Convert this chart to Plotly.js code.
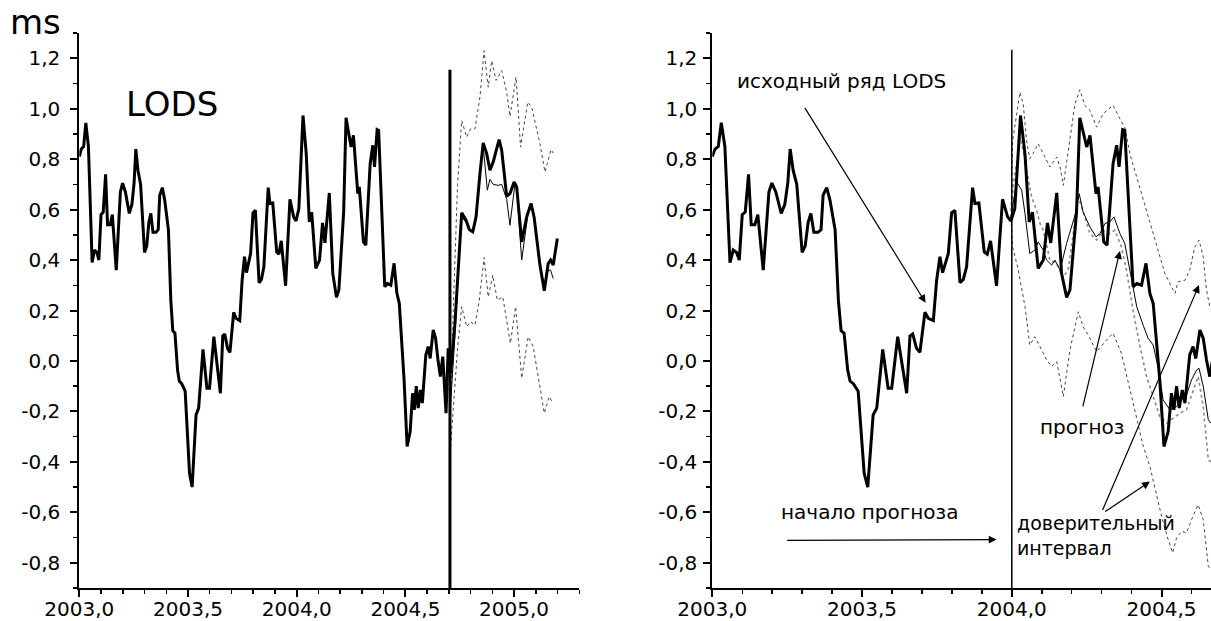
<!DOCTYPE html>
<html>
<head>
<meta charset="utf-8">
<script src="https://cdn.plot.ly/plotly-3.0.1.min.js"></script>
<style>html,body{margin:0;padding:0;background:#fff;}#chart{width:1211px;height:621px;}</style>
</head>
<body>
<div id="chart"></div>
<script>
// ---- observed LODS series (ms) ----
const obsYears = [2003.000,2003.009,2003.020,2003.030,2003.042,2003.059,2003.070,2003.081,2003.090,2003.100,2003.110,2003.121,2003.130,2003.142,2003.152,2003.170,2003.189,2003.199,2003.212,2003.230,2003.242,2003.252,2003.260,2003.270,2003.282,2003.300,2003.310,2003.320,2003.329,2003.339,2003.353,2003.363,2003.370,2003.382,2003.393,2003.410,2003.421,2003.430,2003.440,2003.452,2003.460,2003.471,2003.487,2003.507,2003.519,2003.537,2003.549,2003.569,2003.587,2003.599,2003.619,2003.649,2003.660,2003.669,2003.682,2003.693,2003.710,2003.721,2003.738,2003.749,2003.760,2003.769,2003.788,2003.799,2003.810,2003.827,2003.838,2003.849,2003.869,2003.877,2003.890,2003.908,2003.918,2003.929,2003.949,2003.969,2003.986,2003.997,2004.010,2004.029,2004.044,2004.058,2004.069,2004.088,2004.105,2004.119,2004.130,2004.150,2004.166,2004.183,2004.194,2004.216,2004.227,2004.238,2004.250,2004.261,2004.281,2004.288,2004.307,2004.318,2004.338,2004.350,2004.358,2004.370,2004.377,2004.405,2004.417,2004.433,2004.448,2004.461,2004.472,2004.494,2004.508,2004.522,2004.533,2004.541,2004.550,2004.559,2004.569,2004.578,2004.594,2004.605,2004.614,2004.628,2004.639,2004.650,2004.661,2004.672,2004.687,2004.697,2004.708,2004.728,2004.748,2004.759,2004.779,2004.794,2004.810,2004.825,2004.843,2004.858,2004.874,2004.889,2004.904,2004.931,2004.943,2004.966,2004.981,2005.000,2005.012,2005.035,2005.058,2005.078,2005.092,2005.119,2005.139,2005.157,2005.168,2005.180,2005.199];
const obsLODS = [0.81,0.84,0.85,0.944,0.85,0.39,0.44,0.43,0.40,0.58,0.59,0.74,0.54,0.54,0.58,0.36,0.67,0.705,0.67,0.585,0.62,0.705,0.84,0.755,0.70,0.43,0.455,0.55,0.585,0.51,0.51,0.52,0.657,0.687,0.637,0.52,0.24,0.12,0.11,-0.036,-0.08,-0.09,-0.12,-0.445,-0.50,-0.214,-0.187,0.046,-0.108,-0.108,0.096,-0.128,0.099,0.107,0.05,0.034,0.193,0.169,0.16,0.32,0.413,0.35,0.426,0.587,0.597,0.31,0.323,0.373,0.687,0.624,0.626,0.432,0.423,0.476,0.298,0.641,0.571,0.555,0.604,0.973,0.82,0.551,0.59,0.367,0.40,0.547,0.468,0.666,0.347,0.252,0.281,0.59,0.964,0.914,0.848,0.894,0.663,0.69,0.472,0.459,0.782,0.855,0.769,0.917,0.914,0.294,0.307,0.30,0.387,0.268,0.228,-0.075,-0.339,-0.28,-0.128,-0.194,-0.10,-0.187,-0.115,-0.167,0.024,0.057,0.01,0.123,0.09,0.004,-0.062,0.017,-0.207,0.05,-0.05,0.149,0.452,0.587,0.558,0.521,0.512,0.571,0.743,0.864,0.822,0.756,0.789,0.877,0.835,0.653,0.663,0.709,0.69,0.472,0.571,0.624,0.571,0.38,0.278,0.387,0.40,0.38,0.485];

// ---- forecast from 2004.7 (left panel) ----
const fcLYears = [2004.705,2004.728,2004.748,2004.759,2004.779,2004.794,2004.810,2004.825,2004.843,2004.858,2004.877,2004.889,2004.904,2004.927,2004.943,2004.966,2004.981,2005.005,2005.012,2005.035,2005.065,2005.081,2005.092,2005.119,2005.139,2005.157,2005.168,2005.180];
const fcLValues = [-0.21,0.10,0.42,0.57,0.55,0.52,0.51,0.56,0.74,0.85,0.677,0.72,0.70,0.696,0.70,0.64,0.538,0.709,0.68,0.40,0.59,0.624,0.57,0.38,0.294,0.36,0.36,0.327];
const upLYears = [2004.705,2004.720,2004.740,2004.759,2004.782,2004.800,2004.820,2004.843,2004.862,2004.881,2004.897,2004.917,2004.943,2004.966,2004.981,2005.009,2005.030,2005.063,2005.081,2005.119,2005.142,2005.170,2005.180];
const upLValues = [-0.33,0.20,0.70,0.953,0.887,0.92,0.92,1.046,1.23,1.085,1.19,1.112,1.151,1.065,0.969,1.125,0.848,1.026,1.006,0.861,0.749,0.838,0.824];
const loLYears = [2004.708,2004.740,2004.759,2004.782,2004.800,2004.820,2004.840,2004.862,2004.881,2004.902,2004.923,2004.948,2004.983,2005.007,2005.035,2005.065,2005.088,2005.139,2005.162,2005.178];
const loLValues = [-0.34,0.05,0.215,0.136,0.156,0.142,0.241,0.41,0.254,0.34,0.241,0.254,0.07,0.215,-0.068,0.096,0.057,-0.207,-0.141,-0.167];

// ---- forecast from 2004.0 (right panel) ----
const fcRYears = [2003.997,2004.016,2004.033,2004.044,2004.060,2004.077,2004.088,2004.105,2004.116,2004.133,2004.144,2004.161,2004.183,2004.211,2004.225,2004.238,2004.261,2004.281,2004.294,2004.311,2004.327,2004.341,2004.361,2004.377,2004.394,2004.417,2004.439,2004.455,2004.472,2004.489,2004.505,2004.528,2004.550,2004.567,2004.583,2004.600,2004.617,2004.625,2004.639,2004.656,2004.665];
const fcRValues = [0.57,0.71,0.677,0.584,0.426,0.439,0.472,0.439,0.40,0.38,0.40,0.36,0.466,0.578,0.663,0.59,0.531,0.492,0.505,0.545,0.551,0.571,0.505,0.466,0.36,0.215,0.14,0.09,0.063,-0.029,-0.154,-0.194,-0.181,-0.154,-0.135,-0.075,-0.036,-0.029,-0.10,-0.233,-0.247];
const fc2RYears = [2003.997,2004.005,2004.029,2004.049,2004.066,2004.083,2004.094,2004.105,2004.127,2004.150,2004.170,2004.188,2004.211,2004.222,2004.244,2004.261,2004.283,2004.305,2004.327,2004.344,2004.366,2004.383,2004.405,2004.428,2004.450,2004.472,2004.494,2004.517,2004.539,2004.561,2004.583,2004.605,2004.622,2004.639,2004.656,2004.665];
const fc2RValues = [0.57,0.70,0.887,0.756,0.65,0.597,0.545,0.518,0.40,0.387,0.33,0.36,0.545,0.65,0.571,0.505,0.479,0.518,0.505,0.518,0.452,0.36,0.20,0.057,-0.062,-0.141,-0.22,-0.247,-0.227,-0.207,-0.194,-0.115,-0.062,-0.181,-0.392,-0.40];
const upRYears = [2003.997,2004.003,2004.027,2004.038,2004.049,2004.060,2004.071,2004.088,2004.105,2004.127,2004.150,2004.161,2004.172,2004.194,2004.211,2004.227,2004.244,2004.261,2004.283,2004.305,2004.338,2004.361,2004.377,2004.394,2004.417,2004.450,2004.472,2004.494,2004.511,2004.533,2004.545,2004.555,2004.578,2004.594,2004.611,2004.625,2004.639,2004.650,2004.661];
const upRValues = [0.57,0.874,1.065,1.02,0.874,0.802,0.822,0.861,0.822,0.769,0.808,0.769,0.696,0.887,1.02,1.075,1.013,0.993,0.927,0.98,1.013,0.96,0.927,0.822,0.729,0.59,0.505,0.413,0.347,0.294,0.268,0.314,0.32,0.36,0.452,0.479,0.413,0.281,0.215];
const loRYears = [2003.997,2004.003,2004.020,2004.044,2004.060,2004.077,2004.094,2004.116,2004.133,2004.150,2004.172,2004.194,2004.222,2004.238,2004.255,2004.283,2004.311,2004.338,2004.366,2004.394,2004.417,2004.439,2004.461,2004.483,2004.500,2004.522,2004.537,2004.550,2004.567,2004.583,2004.600,2004.622,2004.639,2004.656,2004.665];
const loRValues = [0.57,0.45,0.37,0.215,0.063,0.096,0.057,0.004,-0.022,-0.003,-0.141,0.044,0.195,0.136,0.103,0.037,0.076,0.11,0.03,-0.115,-0.233,-0.339,-0.418,-0.523,-0.616,-0.708,-0.761,-0.701,-0.675,-0.682,-0.629,-0.57,-0.629,-0.814,-0.827];

// ---- forecast start markers ----
const startLX = [2004.705, 2004.705], startLY = [-0.9, 1.154];
const startRX = [2004.0, 2004.0], startRY = [-0.9, 1.234];

// ---- ticks ----
const xTickVals = [2003.0, 2003.5, 2004.0, 2004.5, 2005.0];
const xTickText = ["2003,0", "2003,5", "2004,0", "2004,5", "2005,0"];
const yTickVals = [-0.8, -0.6, -0.4, -0.2, 0.0, 0.2, 0.4, 0.6, 0.8, 1.0, 1.2];
const yTickText = ["-0,8", "-0,6", "-0,4", "-0,2", "0,0", "0,2", "0,4", "0,6", "0,8", "1,0", "1,2"];

const xMinor = []; for (let i = 2003.1; i < 2005.35; i += 0.1) { const v = Math.round(i*10)/10; if (Math.abs(v*2 - Math.round(v*2)) > 1e-6) xMinor.push(v); }
const yMinor = []; for (let i = -9; i <= 13; i++) { if (i % 2 !== 0) yMinor.push(i/10); }

const FONT = "DejaVu Sans, Liberation Sans, Arial, sans-serif";
const W = 1211, H = 621;

function line(x, y, xa, ya, width, color, dash) {
  return {x: x, y: y, xaxis: xa, yaxis: ya, type: 'scatter', mode: 'lines',
          line: {width: width, color: color, dash: dash || 'solid'}, hoverinfo: 'skip'};
}

const traces = [
  // left panel
  line(upLYears, upLValues, 'x', 'y', 1, '#444', 'dot'),
  line(loLYears, loLValues, 'x', 'y', 1, '#444', 'dot'),
  line(fcLYears, fcLValues, 'x', 'y', 1, '#000'),
  line(obsYears, obsLODS, 'x', 'y', 3, '#000'),
  line(startLX, startLY, 'x', 'y', 3, '#000'),
  // right panel
  line(upRYears, upRValues, 'x2', 'y2', 1, '#444', 'dot'),
  line(loRYears, loRValues, 'x2', 'y2', 1, '#444', 'dot'),
  line(fc2RYears, fc2RValues, 'x2', 'y2', 1.6, '#888', 'dot'),
  line(fcRYears, fcRValues, 'x2', 'y2', 1, '#000'),
  line(obsYears, obsLODS, 'x2', 'y2', 3, '#000'),
  line(startRX, startRY, 'x2', 'y2', 1.5, '#000'),
];

function xAxis(domain, range) {
  return {domain: domain, range: range, tickmode: 'array', tickvals: xTickVals, ticktext: xTickText,
          showline: true, linewidth: 2, linecolor: '#000', ticks: 'outside', ticklen: 7, tickwidth: 2,
          tickcolor: '#000', showgrid: false, zeroline: false, fixedrange: true, ticklabelstandoff: -5,
          tickfont: {family: FONT, size: 20, color: '#000'},
          minor: {tickmode: 'array', tickvals: xMinor, ticks: 'outside', ticklen: 4, tickwidth: 1.5, tickcolor: '#000', showgrid: false}};
}
function yAxis(anchor, standoff) {
  return {domain: [(H-588)/H, (H-33)/H], range: [-0.9, 1.3], anchor: anchor,
          tickmode: 'array', tickvals: yTickVals, ticktext: yTickText,
          showline: true, linewidth: 2, linecolor: '#000', ticks: 'outside', ticklen: 7, tickwidth: 2,
          tickcolor: '#000', showgrid: false, zeroline: false, fixedrange: true, ticklabelstandoff: standoff,
          tickfont: {family: FONT, size: 20, color: '#000'},
          minor: {tickmode: 'array', tickvals: yMinor, ticks: 'outside', ticklen: 4, tickwidth: 1.5, tickcolor: '#000', showgrid: false}};
}

function txt(text, x, y, xref, yref, size, xanchor) {
  return {text: text, x: x, y: y, xref: xref, yref: yref, showarrow: false, align: 'left',
          xanchor: xanchor || 'left', yanchor: 'middle', font: {family: FONT, size: size, color: '#000'}};
}
function arrow(hx, hy, tx, ty) {
  return {text: '', x: hx, y: hy, ax: tx, ay: ty, xref: 'x2', yref: 'y2', axref: 'x2', ayref: 'y2',
          showarrow: true, arrowhead: 2, arrowsize: 1.3, arrowwidth: 1.2, arrowcolor: '#000', standoff: 0, startstandoff: 0};
}

const layout = {
  width: W, height: H, margin: {l: 0, r: 0, t: 0, b: 0}, paper_bgcolor: '#fff', plot_bgcolor: '#fff',
  showlegend: false,
  xaxis: Object.assign(xAxis([79.3/W, 579.3/W], [2003, 2005.3]), {anchor: 'y'}),
  yaxis: yAxis('x', 6),
  xaxis2: Object.assign(xAxis([712.3/W, 1], [2003, 2004.665]), {anchor: 'y2'}),
  yaxis2: yAxis('x2', 2),
  annotations: [
    txt('ms', 8/W, (H-22)/H, 'paper', 'paper', 34),
    txt('LODS', 2003.205, 1.02, 'x', 'y', 34),
    txt('исходный ряд LODS', 2003.076, 1.111, 'x2', 'y2', 20),
    txt('начало прогноза', 2003.222, -0.597, 'x2', 'y2', 20),
    txt('прогноз', 2004.087, -0.261, 'x2', 'y2', 20),
    txt('доверительный<br>интервал', 2004.011, -0.692, 'x2', 'y2', 19),
    arrow(2003.712, 0.231, 2003.306, 1.009),
    arrow(2003.949, -0.708, 2003.245, -0.711),
    arrow(2004.361, 0.436, 2004.236, -0.186),
    arrow(2004.625, 0.301, 2004.301, -0.597),
    arrow(2004.461, -0.478, 2004.307, -0.601),
  ]
};

Plotly.newPlot('chart', traces, layout, {staticPlot: true, displayModeBar: false});
</script>
</body>
</html>
